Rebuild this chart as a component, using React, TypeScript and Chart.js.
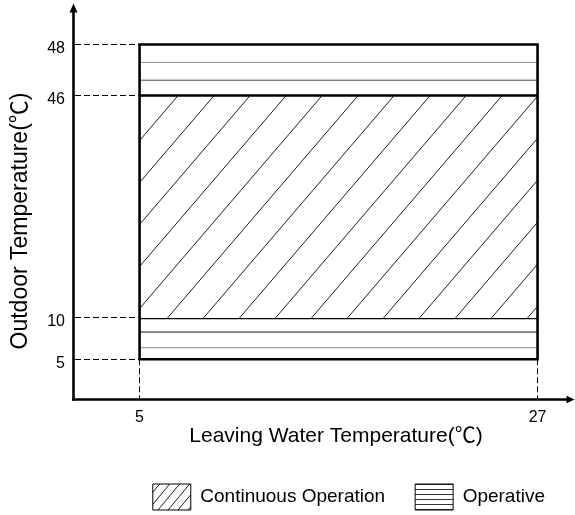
import React, { useEffect, useRef } from 'react';
import { Chart, LinearScale, registerables } from 'chart.js';

// ---------------- data ----------------
const xTickValues = [5, 27];
const yTickValues = [5, 10, 46, 48];
const waterRange = [5, 27];            // leaving water temperature span
const continuousRange = [10, 46];      // outdoor temperature, continuous operation
const operativeTopRange = [46, 48];
const operativeBottomRange = [5, 10];
const operativeRuleValues = [47.3, 46.6, 8.3, 6.4];
const operativeRuleColors = ['#8a8a8a', '#4a4a4a', '#1a1a1a', '#8a8a8a'];
const legendLabels = ['Continuous Operation', 'Operative'];
const xTitle = 'Leaving Water Temperature(℃)';
const yTitle = 'Outdoor Temperature(℃)';

// schematic (non-linear) vertical axis: value breakpoints and their axis fractions
const yBreakValues = [0, 5, 10, 46, 48, 50];
const yBreakFractions = [0, 0.1028, 0.2071, 0.7689, 0.8977, 1];

const FONT = '"Liberation Sans", Arial, "Noto Sans CJK SC", sans-serif';

function interp(v: number, xs: number[], ys: number[]) {
  if (v <= xs[0]) return ys[0] + ((v - xs[0]) * (ys[1] - ys[0])) / (xs[1] - xs[0]);
  for (let i = 1; i < xs.length; i++) {
    if (v <= xs[i]) {
      return ys[i - 1] + ((v - xs[i - 1]) * (ys[i] - ys[i - 1])) / (xs[i] - xs[i - 1]);
    }
  }
  const n = xs.length - 1;
  return ys[n] + ((v - xs[n]) * (ys[n] - ys[n - 1])) / (xs[n] - xs[n - 1]);
}

class PiecewiseScale extends LinearScale {
  static id = 'piecewise';
  static defaults = LinearScale.defaults;
  getPixelForValue(value: any) {
    if (value === null || value === undefined || isNaN(value)) return NaN;
    const o: any = this.options;
    return this.getPixelForDecimal(interp(+value, o.breakValues, o.breakFractions));
  }
  getValueForPixel(pixel: number) {
    const o: any = this.options;
    return interp(this.getDecimalForPixel(pixel), o.breakFractions, o.breakValues);
  }
}

Chart.register(...registerables, PiecewiseScale as any);

function makePattern(
  ctx: CanvasRenderingContext2D,
  w: number,
  h: number,
  draw: (g: CanvasRenderingContext2D) => void,
  dx = 0,
  dy = 0
) {
  const c = document.createElement('canvas');
  c.width = w;
  c.height = h;
  const g = c.getContext('2d')!;
  g.fillStyle = '#fff';
  g.fillRect(0, 0, w, h);
  draw(g);
  const p = ctx.createPattern(c, 'repeat')!;
  if ((dx || dy) && (p as any).setTransform) p.setTransform(new DOMMatrix().translate(dx, dy));
  return p;
}

function diagonal(w: number, h: number, color: string, lw: number) {
  return (g: CanvasRenderingContext2D) => {
    g.strokeStyle = color;
    g.lineWidth = lw;
    for (const off of [-w, 0, w]) {
      g.beginPath();
      g.moveTo(off, h);
      g.lineTo(off + w, 0);
      g.stroke();
    }
  };
}

const axesPlugin = {
  id: 'schematicAxes',
  beforeDatasetsDraw(chart: any) {
    const { ctx, chartArea, scales } = chart;
    const x = scales.x;
    const y = scales.y;
    ctx.save();
    ctx.strokeStyle = '#000';
    ctx.lineWidth = 1;
    ctx.setLineDash([6, 3]);
    const boxLeft = x.getPixelForValue(waterRange[0]);
    yTickValues.forEach((v) => {
      const py = Math.floor(y.getPixelForValue(v)) + 0.5;
      ctx.beginPath();
      ctx.moveTo(chartArea.left + 2, py);
      ctx.lineTo(boxLeft, py);
      ctx.stroke();
    });
    const boxBottom = y.getPixelForValue(operativeBottomRange[0]);
    xTickValues.forEach((v) => {
      const px = Math.floor(x.getPixelForValue(v)) + 0.5;
      ctx.beginPath();
      ctx.moveTo(px, boxBottom);
      ctx.lineTo(px, chartArea.bottom - 1);
      ctx.stroke();
    });
    ctx.restore();
  },
  afterDraw(chart: any) {
    const { ctx, chartArea } = chart;
    const ax = chartArea.left + 0.5;
    const ay = chartArea.bottom - 0.5;
    ctx.save();
    ctx.strokeStyle = '#000';
    ctx.fillStyle = '#000';
    ctx.lineWidth = 2.6;
    ctx.lineCap = 'butt';
    // y axis
    ctx.beginPath();
    ctx.moveTo(ax, ay + 1.3);
    ctx.lineTo(ax, chartArea.top + 8);
    ctx.stroke();
    ctx.beginPath();
    ctx.moveTo(ax, chartArea.top - 0.5);
    ctx.lineTo(ax - 4, chartArea.top + 8.5);
    ctx.lineTo(ax + 4, chartArea.top + 8.5);
    ctx.closePath();
    ctx.fill();
    // x axis
    ctx.beginPath();
    ctx.moveTo(ax - 1.3, ay);
    ctx.lineTo(chartArea.right - 7, ay);
    ctx.stroke();
    ctx.beginPath();
    ctx.moveTo(chartArea.right - 0.5, ay);
    ctx.lineTo(chartArea.right - 8.5, ay - 3.8);
    ctx.lineTo(chartArea.right - 8.5, ay + 3.8);
    ctx.closePath();
    ctx.fill();
    // titles
    ctx.textAlign = 'center';
    ctx.textBaseline = 'alphabetic';
    ctx.font = `21px ${FONT}`;
    ctx.fillText(xTitle, 336, 442);
    ctx.translate(27, 221);
    ctx.rotate(-Math.PI / 2);
    ctx.font = `23px ${FONT}`;
    ctx.fillText(yTitle, 0, 0);
    ctx.restore();
  },
};

export default function App() {
  const ref = useRef<HTMLCanvasElement>(null);

  useEffect(() => {
    const canvas = ref.current!;
    const ctx = canvas.getContext('2d')!;
    Chart.defaults.font.family = FONT;
    Chart.defaults.color = '#000';

    const mainHatch = makePattern(ctx, 36, 42, diagonal(36, 42, '#1e1e1e', 1), 8, 0);
    const legendHatch = makePattern(ctx, 10, 12, diagonal(10, 12, '#222', 1), 3, 0);
    const legendLines = makePattern(ctx, 8, 5, (g) => {
      g.fillStyle = '#333';
      g.fillRect(0, 4, 8, 1);
    });

    const [x0, x1] = waterRange;
    const yLow = operativeBottomRange[0];
    const yHigh = operativeTopRange[1];

    const line = (yv: number) => [
      { x: x0, y: yv },
      { x: x1, y: yv },
    ];

    const datasets: any[] = [
      {
        label: 'outline',
        data: [
          { x: x0, y: yLow },
          { x: x0, y: yHigh },
          { x: x1, y: yHigh },
          { x: x1, y: yLow },
          { x: x0, y: yLow },
        ],
        borderColor: '#000',
        borderWidth: 2.6,
        borderCapStyle: 'square',
        borderJoinStyle: 'miter',
        pointRadius: 0,
        fill: false,
      },
      {
        label: legendLabels[0],
        data: line(continuousRange[1]),
        borderColor: '#000',
        borderWidth: 2.6,
        pointRadius: 0,
        fill: { value: continuousRange[0] },
        backgroundColor: mainHatch,
      },
      {
        label: 'continuous-lower',
        data: line(continuousRange[0]),
        borderColor: '#000',
        borderWidth: 2.6,
        pointRadius: 0,
        fill: false,
      },
      ...operativeRuleValues.map((v, i) => ({
        label: legendLabels[1],
        data: line(v),
        borderColor: operativeRuleColors[i],
        borderWidth: 1,
        pointRadius: 0,
        fill: false,
      })),
    ];

    const chart = new Chart(ctx, {
      type: 'line',
      data: { datasets },
      plugins: [axesPlugin],
      options: {
        animation: false,
        responsive: true,
        maintainAspectRatio: false,
        events: [],
        layout: { padding: { top: 4, right: 0, bottom: -5, left: 0 } },
        plugins: {
          tooltip: { enabled: false },
          legend: {
            display: true,
            position: 'bottom',
            align: 'end',
            labels: {
              boxWidth: 38,
              boxHeight: 26,
              padding: 30,
              color: '#000',
              font: { size: 19, family: FONT },
              generateLabels: () => [
                {
                  text: legendLabels[0],
                  fillStyle: legendHatch,
                  strokeStyle: '#000',
                  lineWidth: 1,
                  hidden: false,
                  fontColor: '#000',
                  datasetIndex: 1,
                },
                {
                  text: legendLabels[1],
                  fillStyle: legendLines,
                  strokeStyle: '#000',
                  lineWidth: 1,
                  hidden: false,
                  fontColor: '#000',
                  datasetIndex: 3,
                },
              ],
            },
          },
        },
        scales: {
          x: {
            type: 'linear',
            position: 'bottom',
            min: 1.32,
            max: 29.07,
            grid: { display: false, drawTicks: false, tickLength: 0 },
            border: { display: false },
            ticks: {
              font: { size: 16, family: FONT },
              color: '#000',
              padding: 8,
              autoSkip: false,
              maxRotation: 0,
              callback: (v: any) => String(v),
            },
            afterBuildTicks: (s: any) => {
              s.ticks = xTickValues.map((value) => ({ value }));
            },
            afterFit: (s: any) => {
              s.height = 54;
              s.paddingLeft = 0;
              s.paddingRight = 0;
              s.paddingTop = 0;
              s.paddingBottom = 0;
            },
          },
          y: {
            type: 'piecewise' as any,
            position: 'left',
            min: yBreakValues[0],
            max: yBreakValues[yBreakValues.length - 1],
            breakValues: yBreakValues,
            breakFractions: yBreakFractions,
            grid: { display: false, drawTicks: false, tickLength: 0 },
            border: { display: false },
            ticks: {
              font: { size: 16, family: FONT },
              color: '#000',
              padding: 8,
              labelOffset: 4,
              autoSkip: false,
              callback: (v: any) => String(v),
            },
            afterBuildTicks: (s: any) => {
              s.ticks = yTickValues.map((value) => ({ value }));
            },
            afterFit: (s: any) => {
              s.width = 73;
              s.paddingLeft = 0;
              s.paddingRight = 0;
              s.paddingTop = 0;
              s.paddingBottom = 0;
            },
          } as any,
        },
      } as any,
    });

    return () => chart.destroy();
  }, []);

  return (
    <div style={{ position: 'absolute', left: 0, top: 0, width: 575, height: 515, background: '#fff' }}>
      <canvas ref={ref} />
    </div>
  );
}
